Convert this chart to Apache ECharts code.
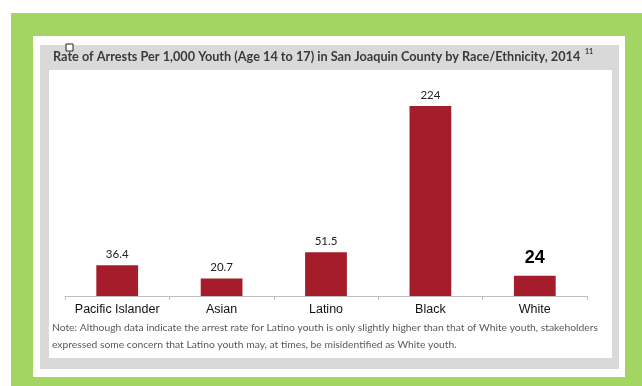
<!DOCTYPE html>
<html><head><meta charset="utf-8">
<script src="https://cdn.jsdelivr.net/npm/echarts@6/dist/echarts.min.js"></script>
<style>html,body{margin:0;padding:0;background:#fff}#c{width:642px;height:386px}</style>
</head><body><div id="c"></div>
<script>
const categories = ["Pacific Islander", "Asian", "Latino", "Black", "White"];
const rates = [36.4, 20.7, 51.5, 224, 24];
const rateLabels = ["36.4", "20.7", "51.5", "224", "24"];
const titleText = "Rate of Arrests Per 1,000 Youth (Age 14 to 17) in San Joaquin County by Race/Ethnicity, 2014";
const titleSup = "11";
const noteLines = [
  "Note: Although data indicate the arrest rate for Latino youth is only slightly higher than that of White youth, stakeholders",
  "expressed some concern that Latino youth may, at times, be misidentified as White youth."
];

const chart = echarts.init(document.getElementById('c'), null, {renderer: 'canvas'});
const barColor = '#a51d2b';
const option = {
  animation: false,
  backgroundColor: '#ffffff',
  graphic: [
    {type: 'rect', z: -10, shape: {x: 11, y: 13, width: 631, height: 373}, style: {fill: '#a2d562'}},
    {type: 'rect', z: -9, shape: {x: 33, y: 36, width: 592, height: 341}, style: {fill: '#ffffff'}},
    {type: 'rect', z: -8, shape: {x: 40, y: 45, width: 579, height: 324}, style: {fill: '#d9d9d9'}},
    {type: 'rect', z: -7, shape: {x: 49, y: 70, width: 563, height: 288}, style: {fill: '#ffffff'}},
    {type: 'rect', z: 5, shape: {x: 66, y: 44, width: 7, height: 7}, style: {fill: '#ffffff', stroke: '#222', lineWidth: 1}},
    {type: 'text', z: 5, left: 53, top: 50, style: {text: titleText, font: 'bold 12.7px Lato', fill: '#3a3a3a'}},
    {type: 'text', z: 5, left: 585, top: 48, style: {text: titleSup, font: 'bold 7px Lato', fill: '#3a3a3a'}},
    {type: 'text', z: 5, left: 52, top: 323, style: {text: noteLines[0], font: '10.3px Lato', fill: '#595959'}},
    {type: 'text', z: 5, left: 52, top: 340, style: {text: noteLines[1], font: '10.3px Lato', fill: '#595959'}}
  ],
  grid: {left: 65, right: 55, top: 84, bottom: 90, containLabel: false},
  xAxis: {
    type: 'category', data: categories,
    axisLine: {lineStyle: {color: '#bfbfbf', width: 1}},
    axisTick: {show: true, alignWithLabel: false, length: 4, lineStyle: {color: '#bfbfbf'}},
    axisLabel: {interval: 0, color: '#111', fontFamily: 'Liberation Sans', fontSize: 12.5, margin: 7}
  },
  yAxis: {type: 'value', min: 0, max: 250, show: false, splitLine: {show: false}},
  series: [{
    type: 'bar', barWidth: '40%',
    itemStyle: {color: barColor},
    data: rates.map((v, i) => ({
      value: v,
      label: i === 4
        ? {show: true, position: 'top', distance: 9, formatter: rateLabels[i], fontSize: 18, fontWeight: 'bold', color: '#000', fontFamily: 'Liberation Sans'}
        : {show: true, position: 'top', distance: 5, formatter: rateLabels[i], fontSize: 11.5, color: '#222', fontFamily: 'Lato'}
    }))
  }]
};
chart.setOption(option);
</script></body></html>
